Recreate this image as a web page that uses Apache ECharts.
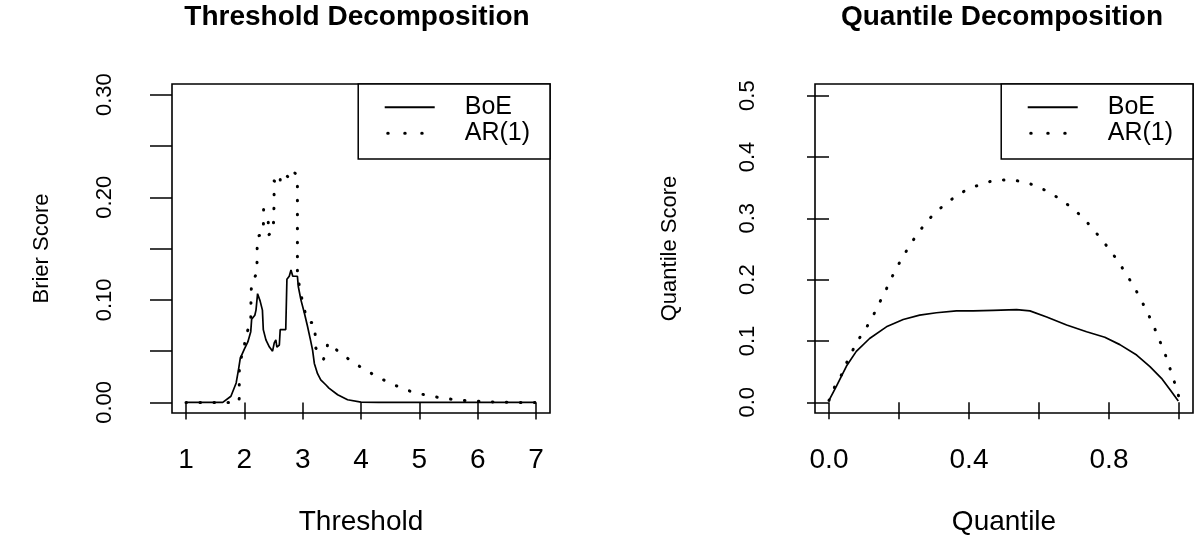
<!DOCTYPE html>
<html>
<head>
<meta charset="utf-8">
<script src="https://cdn.jsdelivr.net/npm/echarts@6.0.0/dist/echarts.min.js"></script>
<style>
html,body{margin:0;padding:0;background:#ffffff;}
#chart{width:1194px;height:535px;}
</style>
</head>
<body>
<div id="chart"></div>
<script>
// ---------- data ----------
const seriesNames = ['BoE', 'AR(1)'];

// Threshold decomposition (Brier score vs threshold)
const thresholdBoEX = [1, 1.63, 1.77, 1.86, 1.9, 1.93, 2.0, 2.06, 2.11, 2.125, 2.18, 2.2, 2.227, 2.27, 2.31, 2.325, 2.37, 2.43, 2.484, 2.513, 2.54, 2.558, 2.6, 2.615, 2.71, 2.73, 2.77, 2.8, 2.83, 2.91, 2.925, 2.97, 3.03, 3.08, 3.13, 3.17, 3.2, 3.255, 3.31, 3.4, 3.45, 3.6, 3.77, 4.0, 4.3, 7];
const thresholdBoEY = [0, 0, 0.006, 0.019, 0.032, 0.043, 0.052, 0.059, 0.069, 0.081, 0.085, 0.09, 0.106, 0.099, 0.09, 0.071, 0.061, 0.054, 0.05, 0.058, 0.061, 0.054, 0.056, 0.071, 0.071, 0.12, 0.123, 0.129, 0.123, 0.123, 0.113, 0.1, 0.087, 0.075, 0.062, 0.051, 0.038, 0.028, 0.022, 0.017, 0.014, 0.0075, 0.0026, 0.0003, 0, 0];

const thresholdARX = [1, 1.9, 1.913, 1.913, 1.93, 2.0, 2.01, 2.11, 2.115, 2.125, 2.216, 2.22, 2.227, 2.313, 2.33, 2.33, 2.41, 2.41, 2.5, 2.5, 2.51, 2.51, 2.615, 2.615, 2.7, 2.77, 2.815, 2.9, 2.91, 2.91, 2.958, 3.0, 3.055, 3.11, 3.186, 3.215, 3.226, 3.357, 3.41, 3.43, 3.63, 3.84, 4.065, 4.31, 4.57, 4.84, 5.12, 5.42, 5.73, 6.04, 6.35, 6.65, 7];
const thresholdARY = [0, 0, 0.004, 0.03, 0.042, 0.05, 0.064, 0.077, 0.105, 0.117, 0.126, 0.151, 0.162, 0.164, 0.176, 0.188, 0.176, 0.163, 0.167, 0.179, 0.192, 0.216, 0.211, 0.223, 0.222, 0.219, 0.226, 0.222, 0.212, 0.123, 0.11, 0.097, 0.085, 0.078, 0.078, 0.066, 0.053, 0.042, 0.05, 0.058, 0.049, 0.04, 0.032, 0.024, 0.017, 0.011, 0.007, 0.004, 0.002, 0.001, 0.0003, 0, 0];

// Quantile decomposition (quantile score vs quantile level)
const quantileBoEX = [0, 0.021, 0.05, 0.078, 0.116, 0.164, 0.212, 0.259, 0.307, 0.364, 0.412, 0.469, 0.536, 0.574, 0.622, 0.679, 0.736, 0.788, 0.831, 0.879, 0.917, 0.95, 0.974, 0.998];
const quantileBoEY = [0.003, 0.026, 0.059, 0.083, 0.104, 0.123, 0.135, 0.142, 0.146, 0.149, 0.149, 0.150, 0.151, 0.149, 0.139, 0.126, 0.115, 0.106, 0.094, 0.077, 0.058, 0.039, 0.021, 0.002];

const quantileARX = [0, 0.016, 0.035, 0.05, 0.067, 0.085, 0.107, 0.126, 0.143, 0.161, 0.176, 0.194, 0.214, 0.234, 0.256, 0.281, 0.311, 0.345, 0.382, 0.426, 0.472, 0.523, 0.572, 0.617, 0.656, 0.692, 0.724, 0.752, 0.778, 0.803, 0.827, 0.848, 0.869, 0.887, 0.905, 0.921, 0.936, 0.95, 0.964, 0.976, 0.988, 1.0];
const quantileARY = [0.003, 0.025, 0.044, 0.064, 0.084, 0.103, 0.122, 0.141, 0.161, 0.181, 0.2, 0.22, 0.24, 0.259, 0.277, 0.296, 0.313, 0.329, 0.343, 0.354, 0.362, 0.363, 0.357, 0.346, 0.333, 0.318, 0.302, 0.284, 0.266, 0.248, 0.229, 0.21, 0.191, 0.172, 0.152, 0.133, 0.113, 0.093, 0.073, 0.052, 0.031, 0.008];

// tick values / labels
const thresholdTicks = [1, 2, 3, 4, 5, 6, 7];
const brierTicks = [0, 0.05, 0.1, 0.15, 0.2, 0.25, 0.3];
const brierLabels = [0, 0.1, 0.2, 0.3];
const quantileTicks = [0, 0.2, 0.4, 0.6, 0.8, 1.0];
const quantileLabels = [0, 0.4, 0.8];
const qscoreTicks = [0, 0.1, 0.2, 0.3, 0.4, 0.5];

const titles = ['Threshold Decomposition', 'Quantile Decomposition'];
const xNames = ['Threshold', 'Quantile'];
const yNames = ['Brier Score', 'Quantile Score'];

// ---------- chart ----------
const FONT = "'Liberation Sans', Arial, Helvetica, sans-serif";
const BLACK = '#000000';
const pairs = (xs, ys) => xs.map((x, i) => [x, ys[i]]);

function textWidth(t, font) {
  const ctx = document.createElement('canvas').getContext('2d');
  ctx.font = font;
  return ctx.measureText(t).width;
}
const TITLE_SIZE = 28;
const titleFont = 'bold ' + TITLE_SIZE + 'px ' + FONT;
const plotCenters = [357, 1002];

const tickStyle = { color: BLACK, width: 1.5 };
const dotted = { color: BLACK, width: 3, type: [0.5, 13.5], cap: 'round' };
const solid = { color: BLACK, width: 1.7 };

function xAxisOf(idx, min, max, ticks, labels, fmt) {
  return {
    gridIndex: idx, type: 'value', min: min, max: max,
    axisLine: { show: false }, splitLine: { show: false },
    axisTick: { show: true, inside: false, length: 17, lineStyle: tickStyle, customValues: ticks },
    axisLabel: { show: true, customValues: labels, margin: 33, color: BLACK, fontFamily: FONT, fontSize: 28, formatter: fmt },
    name: xNames[idx], nameLocation: 'middle', nameGap: 95,
    nameTextStyle: { color: BLACK, fontFamily: FONT, fontSize: 28 }
  };
}
function yAxisOf(idx, min, max, ticks, labels, fmt, nameGap) {
  return {
    gridIndex: idx, type: 'value', min: min, max: max,
    axisLine: { show: false }, splitLine: { show: false },
    axisTick: { show: true, inside: false, length: 22, lineStyle: tickStyle, customValues: ticks },
    axisLabel: { show: true, customValues: labels, rotate: 90, margin: 56, color: BLACK, fontFamily: FONT, fontSize: 22, formatter: fmt },
    name: yNames[idx], nameLocation: 'middle', nameRotate: 90, nameGap: nameGap,
    nameTextStyle: { color: BLACK, fontFamily: FONT, fontSize: 22 }
  };
}
function legendOf(idx, right) {
  return {
    show: true, orient: 'vertical', right: right, top: 84,
    padding: [10.7, 20, 13.3, 25], itemGap: 1, itemWidth: 50, itemHeight: 24,
    borderColor: BLACK, borderWidth: 1.5, backgroundColor: '#ffffff', borderRadius: 0,
    selectedMode: false,
    itemStyle: { opacity: 0 },
    textStyle: { color: BLACK, fontFamily: FONT, fontSize: 25, padding: [0, 0, 0, 25] },
    data: [
      { name: seriesNames[0] },
      { name: seriesNames[1], lineStyle: { type: [0.5, 16.5], dashOffset: 14, cap: 'round', width: 3 } }
    ]
  };
}

const option = {
  animation: false,
  backgroundColor: '#ffffff',
  title: titles.map((t, i) => ({
    text: t, left: plotCenters[i] - textWidth(t, titleFont) / 2, top: 3, padding: 0,
    textStyle: { color: BLACK, fontFamily: FONT, fontWeight: 'bold', fontSize: TITLE_SIZE }
  })),
  grid: [
    { left: 172, top: 84, width: 378, height: 329, show: true, borderColor: BLACK, borderWidth: 1.6, backgroundColor: 'transparent', containLabel: false, outerBoundsMode: 'none' },
    { left: 815, top: 84, width: 378, height: 329, show: true, borderColor: BLACK, borderWidth: 1.6, backgroundColor: 'transparent', containLabel: false, outerBoundsMode: 'none' }
  ],
  xAxis: [
    xAxisOf(0, 0.76, 7.24, thresholdTicks, thresholdTicks, v => String(v)),
    xAxisOf(1, -0.04, 1.04, quantileTicks, quantileLabels, v => v.toFixed(1))
  ],
  yAxis: [
    yAxisOf(0, -0.0103, 0.3104, brierTicks, brierLabels, v => v.toFixed(2), 119),
    yAxisOf(1, -0.0175, 0.519, qscoreTicks, qscoreTicks, v => v.toFixed(1), 134)
  ],
  legend: [legendOf(0, 1194 - 550), legendOf(1, 1)],
  series: [
    { name: seriesNames[0], type: 'line', xAxisIndex: 0, yAxisIndex: 0, data: pairs(thresholdBoEX, thresholdBoEY), symbol: 'none', showSymbol: false, lineStyle: solid, itemStyle: { color: BLACK }, silent: true },
    { name: seriesNames[1], type: 'line', xAxisIndex: 0, yAxisIndex: 0, data: pairs(thresholdARX, thresholdARY), symbol: 'none', showSymbol: false, lineStyle: dotted, itemStyle: { color: BLACK }, silent: true },
    { name: seriesNames[0], type: 'line', xAxisIndex: 1, yAxisIndex: 1, data: pairs(quantileBoEX, quantileBoEY), symbol: 'none', showSymbol: false, lineStyle: solid, itemStyle: { color: BLACK }, silent: true },
    { name: seriesNames[1], type: 'line', xAxisIndex: 1, yAxisIndex: 1, data: pairs(quantileARX, quantileARY), symbol: 'none', showSymbol: false, lineStyle: dotted, itemStyle: { color: BLACK }, silent: true }
  ]
};

const chart = echarts.init(document.getElementById('chart'), null, { renderer: 'canvas' });
chart.setOption(option);
</script>
</body>
</html>
